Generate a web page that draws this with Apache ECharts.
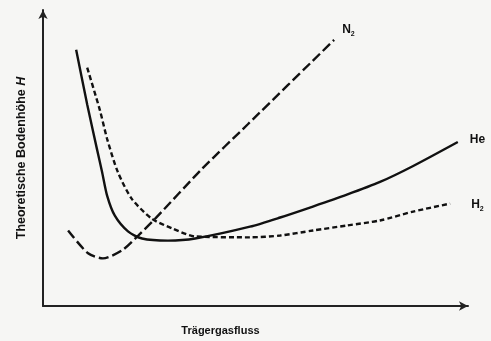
<!DOCTYPE html>
<html>
<head>
<meta charset="utf-8">
<script src="https://cdn.jsdelivr.net/npm/echarts@6/dist/echarts.min.js"></script>
<style>
  html, body { margin: 0; padding: 0; background: #f6f6f4; }
  #chart { width: 491px; height: 341px; }
</style>
</head>
<body>
<div id="chart"></div>
<script>
// Van-Deemter-Kurven: theoretische Bodenhöhe H gegen Trägergasfluss (relative Einheiten)
const heFlow = [7.8, 10.4, 12.7, 13.9, 15.1, 16.9, 20.0, 23.3, 29.4, 35.8, 48.7, 55.8, 63.5, 71.5, 79.3, 87.1, 97.6];
const heH    = [86.6, 68.1, 53.0, 45.3, 37.2, 30.5, 25.2, 22.8, 22.1, 22.8, 26.8, 29.9, 33.6, 37.6, 41.9, 47.3, 55.4];

const h2Flow = [10.4, 13.4, 15.1, 17.6, 20.9, 25.6, 30.4, 35.8, 48.7, 55.8, 63.5, 71.5, 79.3, 87.1, 95.8];
const h2H    = [80.5, 66.1, 56.4, 45.3, 36.2, 29.5, 26.2, 23.5, 23.2, 23.8, 25.5, 27.2, 28.9, 31.9, 34.6];

const n2Flow = [5.9, 10.6, 14.1, 18.6, 22.4, 26.4, 37.4, 48.2, 68.5];
const n2H    = [25.5, 17.8, 16.1, 18.8, 23.8, 29.5, 46.3, 61.4, 89.9];

const xTitle = 'Trägergasfluss';
const yTitle = 'Theoretische Bodenhöhe ';
const yVar = 'H';

const pairs = (xs, ys) => xs.map((x, i) => [x, ys[i]]);

const labelRich = {
  n: { fontFamily: 'Liberation Sans', fontWeight: 'bold', fontSize: 12, color: '#111' },
  s: { fontFamily: 'Liberation Sans', fontWeight: 'bold', fontSize: 7, color: '#111', padding: [8, 0, 0, 0] }
};

function gasSeries(name, xs, ys, type, label, offset) {
  return {
    name: name,
    type: 'line',
    data: pairs(xs, ys),
    smooth: 0.25,
    symbol: 'none',
    silent: true,
    lineStyle: { color: '#111', width: 2.4, type: type, cap: 'butt' },
    endLabel: {
      show: true,
      formatter: label,
      offset: offset,
      rich: labelRich
    }
  };
}

const chart = echarts.init(document.getElementById('chart'));
chart.setOption({
  backgroundColor: '#f6f6f4',
  animation: false,
  grid: { left: 43, right: 23, top: 10, bottom: 33 },
  xAxis: {
    type: 'value', min: 0, max: 100,
    name: xTitle,
    nameLocation: 'middle',
    nameGap: 19,
    nameTextStyle: { fontFamily: 'Liberation Sans', fontWeight: 'bold', fontSize: 11, color: '#111', padding: [0, 70, 0, 0] },
    axisLine: { lineStyle: { color: '#222', width: 2 }, symbol: ['none', 'arrow'], symbolSize: [7, 9] },
    axisTick: { show: false }, axisLabel: { show: false }, splitLine: { show: false }
  },
  yAxis: {
    type: 'value', min: 0, max: 100,
    name: '{b|' + yTitle + '}{i|' + yVar + '}',
    nameLocation: 'middle',
    nameGap: 15,
    nameRotate: 90,
    nameTextStyle: {
      rich: {
        b: { fontFamily: 'Liberation Sans', fontWeight: 'bold', fontSize: 12.5, color: '#111' },
        i: { fontFamily: 'Liberation Sans', fontWeight: 'bold', fontStyle: 'italic', fontSize: 12.5, color: '#111' }
      }
    },
    axisLine: { lineStyle: { color: '#222', width: 2 }, symbol: ['none', 'arrow'], symbolSize: [7, 9] },
    axisTick: { show: false }, axisLabel: { show: false }, splitLine: { show: false }
  },
  series: [
    gasSeries('N2', n2Flow, n2H, [10, 4], '{n|N}{s|2}', [0, -10]),
    gasSeries('He', heFlow, heH, 'solid', '{n|He}', [4, -2]),
    gasSeries('H2', h2Flow, h2H, [5, 3], '{n|H}{s|2}', [13, 1])
  ]
});
</script>
</body>
</html>
